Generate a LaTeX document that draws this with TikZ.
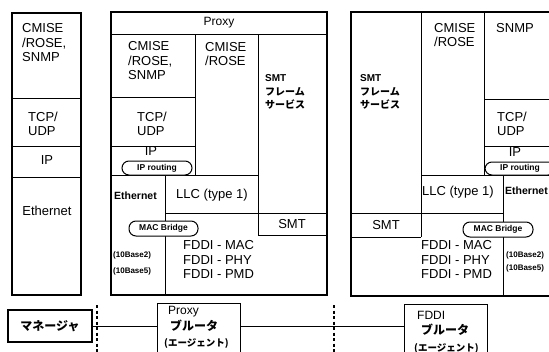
\documentclass[tikz,border=0pt]{standalone}
\usepackage{fontspec}
\setmainfont{Liberation Sans}
\newfontfamily\jp{Noto Sans CJK JP}
\tikzset{
  frame/.style={line width=1.8pt},
  div/.style={line width=0.9pt},
  lbl/.style={inner sep=0pt, align=left, font=\fontsize{13}{14.5}\selectfont},
  hdr/.style={inner sep=0pt, font=\fontsize{12}{14}\selectfont},
  eth/.style={inner sep=0pt, font=\bfseries\fontsize{10.5}{12}\selectfont},
  base/.style={inner sep=0pt, align=left, font=\bfseries\fontsize{8}{16}\selectfont},
  smtf/.style={inner sep=0pt, align=left, font=\bfseries\fontsize{10}{13.5}\selectfont},
  pill/.style={draw, fill=white, line width=1pt, rounded corners=7pt, inner sep=0pt, font=\bfseries\fontsize{8.5}{10}\selectfont},
  bbox/.style={draw, line width=1.4pt, inner sep=0pt},
  btxt/.style={inner sep=0pt, font=\fontsize{12}{14}\selectfont},
  bjp/.style={inner sep=0pt, font=\jp\bfseries\fontsize{12}{14}\selectfont},
  bsmall/.style={inner sep=0pt, font=\jp\bfseries\fontsize{9.5}{12}\selectfont},
  vdash/.style={line width=1.3pt, dash pattern=on 3pt off 2.5pt},
  conn/.style={line width=1pt}
}
\begin{document}
\begin{tikzpicture}[x=1pt,y=-1pt]
\path[use as bounding box, clip] (0,0) rectangle (549,351);
\fill[white] (0,0) rectangle (549,351);

% ---------- left stack (manager) ----------
\draw[div] (12,98) -- (81,98) (12,146) -- (81,146) (12,177) -- (81,177);
\draw[frame] (12,13) rectangle (81,295);
\node[lbl, anchor=west] (lcm) at (22,43) {CMISE\\/ROSE,\\SNMP};
\node[lbl, anchor=west] (ltcp) at (28,124) {TCP/\\UDP};
\node[lbl] (lip) at (47,160) {IP};
\node[lbl] (leth) at (47,211) {Ethernet};

% ---------- proxy stack ----------
\draw[div] (111,34) -- (327,34)
  (195,34) -- (195,175)
  (258,34) -- (258,235)
  (111,97) -- (195,97)
  (111,146) -- (195,146)
  (111,175) -- (258,175)
  (165,175) -- (165,295)
  (165,213) -- (327,213)
  (258,235) -- (327,235);
\draw[frame] (111,12) rectangle (327,295);
\node[hdr] (phdr) at (219,23) {Proxy};
\node[lbl, anchor=west] (pcm1) at (128,61) {CMISE\\/ROSE,\\SNMP};
\node[lbl, anchor=west] (pcm2) at (205,54) {CMISE\\/ROSE};
\node[smtf, anchor=west] (psmtf) at (265,92) {SMT\\{\jp フレーム}\\{\jp サービス}};
\node[lbl, anchor=west] (ptcp) at (137,124) {TCP/\\UDP};
\node[lbl] (pip) at (151,151) {IP};
\node[pill, minimum width=70pt, minimum height=14pt] (pipr) at (157,168) {IP routing};
\node[eth, anchor=west] (peth) at (114,196) {Ethernet};
\node[lbl] (pllc) at (212,195) {LLC (type 1)};
\node[lbl] (psmt) at (292,224) {SMT};
\node[pill, minimum width=69pt, minimum height=15pt] (pmac) at (163.5,228.5) {MAC Bridge};
\node[lbl, anchor=west] (pfddi) at (183,259.5) {FDDI - MAC\\FDDI - PHY\\FDDI - PMD};
\node[base, anchor=west] (pbase) at (113,263) {(10Base2)\\(10Base5)};

% ---------- FDDI stack ----------
\draw[div] (421,12) -- (421,237)
  (484,12) -- (484,175)
  (484,99) -- (600,99)
  (484,146) -- (600,146)
  (421,175) -- (600,175)
  (503,175) -- (503,296)
  (351,213) -- (503,213)
  (351,237) -- (421,237);
\draw[frame] (351,12) rectangle (600,296);
\node[smtf, anchor=west] (fsmtf) at (360,92) {SMT\\{\jp フレーム}\\{\jp サービス}};
\node[lbl, anchor=west] (fcm) at (434,35) {CMISE\\/ROSE};
\node[lbl, anchor=west] (fsnmp) at (496,28) {SNMP};
\node[lbl, anchor=west] (ftcp) at (497,124) {TCP/\\UDP};
\node[lbl] (fip) at (515,152) {IP};
\node[pill, minimum width=70pt, minimum height=13pt] (fipr) at (520,168.5) {IP routing};
\node[lbl, anchor=west] (fllc) at (422,192) {LLC (type 1)};
\node[eth, anchor=west] (feth) at (505,191) {Ethernet};
\node[lbl] (fsmt) at (386,225) {SMT};
\node[pill, minimum width=70pt, minimum height=15pt] (fmac) at (498,229.5) {MAC Bridge};
\node[lbl, anchor=west] (ffddi) at (421,259.5) {FDDI - MAC\\FDDI - PHY\\FDDI - PMD};
\node[base, anchor=west, font=\bfseries\fontsize{8}{13}\selectfont] (fbase) at (506,262) {(10Base2)\\(10Base5)};

% ---------- bottom row ----------
\node[bbox, line width=1.3pt, minimum width=84pt, minimum height=32pt, font=\jp\bfseries\fontsize{12}{14}\selectfont] (mgr) at (50,326) {マネージャ};
\node[bbox, anchor=north west, minimum width=83pt, minimum height=70pt] (pbox) at (157,303) {};
\node[btxt, anchor=west] (pb1) at (168,312) {Proxy};
\node[bjp, anchor=west] (pb2) at (170,326) {ブルータ};
\node[bsmall, anchor=west] (pb3) at (164,343) {(エージェント)};
\node[bbox, anchor=north west, minimum width=83pt, minimum height=70pt] (fbox) at (404,304) {};
\node[btxt, anchor=west] (fb1) at (417,315) {FDDI};
\node[bjp, anchor=west] (fb2) at (421,330) {ブルータ};
\node[bsmall, anchor=west] (fb3) at (414,348) {(エージェント)};

\draw[conn] (mgr.east) -- (mgr.east -| pbox.west);
\draw[conn] (mgr.east -| pbox.east) -- (mgr.east -| fbox.west);

\coordinate (d1a) at (97,305);
\coordinate (d1b) at (97,356);
\coordinate (d2a) at (334,305);
\coordinate (d2b) at (334,356);
\draw[vdash] (d1a) -- (d1b);
\draw[vdash] (d2a) -- (d2b);
\end{tikzpicture}
\end{document}
